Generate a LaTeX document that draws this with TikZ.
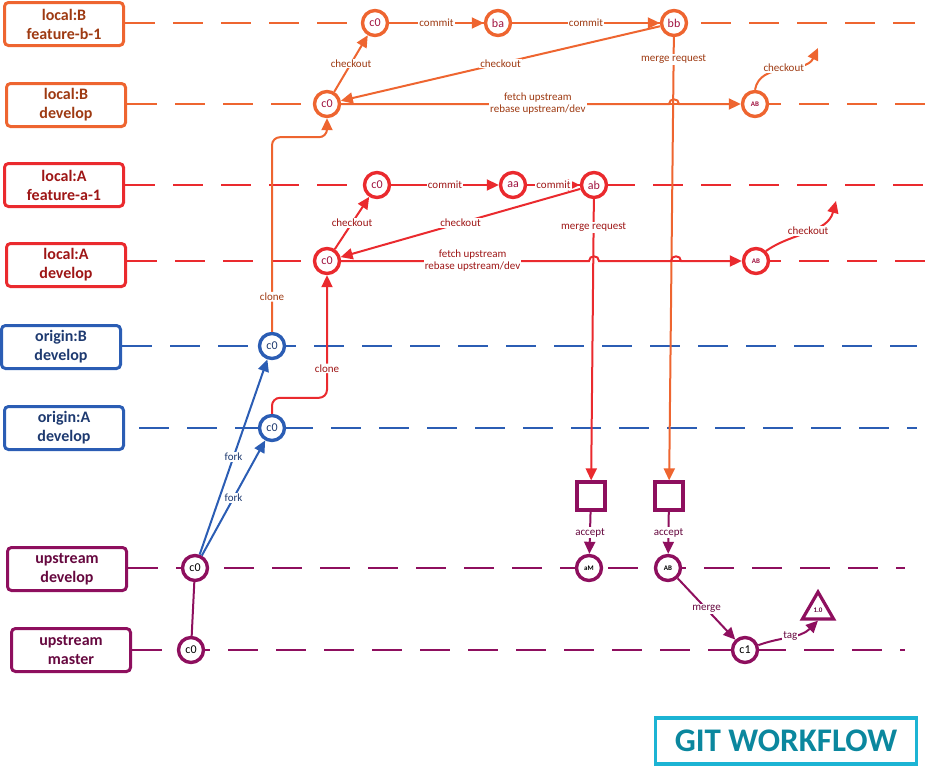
\documentclass[tikz,border=0pt]{standalone}
\usepackage{fontspec}
\setmainfont{Carlito}
\usetikzlibrary{arrows.meta}
\usetikzlibrary{shapes.geometric}
\definecolor{bcol}{HTML}{EE6530}
\definecolor{btext}{HTML}{9E3A12}
\definecolor{acol}{HTML}{EA2A2E}
\definecolor{atext}{HTML}{9E1616}
\definecolor{ocol}{HTML}{2B5DB4}
\definecolor{otext}{HTML}{1E3A70}
\definecolor{ucol}{HTML}{8E0F5E}
\definecolor{utext}{HTML}{66083F}
\definecolor{ctext}{HTML}{A0123F}
\definecolor{tcol}{HTML}{1CB4D4}
\definecolor{ttext}{HTML}{0B879E}

\begin{document}
\begin{tikzpicture}[x=1pt, y=-1pt]
                \tikzstyle{branch} = [draw={#1}, line width=3pt, rounded corners=4pt, minimum width=119pt, minimum height=43pt, align=center, font=\fontsize{16}{19}\selectfont\bfseries]
                \tikzstyle{lane} = [line width=2.2pt, dash pattern=on 30pt off 18pt, color={#1}]
                \tikzstyle{commit} = [circle, draw={#1}, fill=white, line width=3.4pt, minimum size=25pt, inner sep=0pt, font=\fontsize{12}{13}\selectfont]
                \tikzstyle{small} = [font=\fontsize{7}{8}\selectfont\bfseries]
                \tikzstyle{request} = [draw={#1}, fill=white, line width=3.2pt, minimum size=28pt, inner sep=0pt]
                \tikzstyle{link} = [line width=2pt, color={#1}, -{Triangle[length=12pt, width=11pt]}]
                \tikzstyle{lbl} = [fill=white, inner sep=1pt, font=\fontsize{11}{12}\selectfont]
                \useasboundingbox (0,0) rectangle (929,774);
                % branches
                \node[branch=bcol, text=btext] (lbf) at (64,24) {local:B\\feature-b-1};
                \node[branch=bcol, text=btext] (lbd) at (66,105) {local:B\\develop};
                \node[branch=acol, text=atext] (laf) at (64,185) {local:A\\feature-a-1};
                \node[branch=acol, text=atext] (lad) at (66,265) {local:A\\develop};
                \node[branch=ocol, text=otext] (obd) at (61,347) {origin:B\\develop};
                \node[branch=ocol, text=otext] (oad) at (64,428) {origin:A\\develop};
                \node[branch=ucol, text=utext] (upd) at (67,569) {upstream\\develop};
                \node[branch=ucol, text=utext] (upm) at (71,650) {upstream\\master};
                \draw[lane=bcol] (lbf.east |- 0,23) -- (915,23);
                \draw[lane=bcol] (lbd.east |- 0,104) -- (925,104);
                \draw[lane=acol] (laf.east) -- (925,185);
                \draw[lane=acol] (lad.east |- 0,261) -- (925,261);
                \draw[lane=ocol] (obd.east |- 0,346) -- (917,346);
                \draw[lane=ocol] ([xshift=14pt]oad.east) -- (917,428);
                \draw[lane=ucol] (upd.east |- 0,568) -- (905,568);
                \draw[lane=ucol] (upm.east) -- (905,650);
                % commits
                \node[commit=bcol, text=ctext] (bc0) at (375,23) {c0};
                \node[commit=bcol, text=ctext] (bba) at (498,23) {ba};
                \node[commit=bcol, text=ctext] (bbb) at (674,23) {bb};
                \node[commit=bcol, text=ctext] (bdc0) at (327,104) {c0};
                \node[commit=bcol, text=ctext, small] (bdAB) at (755,104) {AB};
                \node[commit=acol, text=ctext] (ac0) at (377,185) {c0};
                \node[commit=acol, text=ctext] (aaa) at (513,185) {aa};
                \node[commit=acol, text=ctext] (aab) at (594,185) {ab};
                \node[commit=acol, text=ctext] (adc0) at (327,261) {c0};
                \node[commit=acol, text=ctext, small] (adAB) at (756,261) {AB};
                \node[commit=ocol, text=otext] (obc0) at (272,346) {c0};
                \node[commit=ocol, text=otext] (oac0) at (272,428) {c0};
                \node[commit=ucol, text=black] (udc0) at (195,568) {c0};
                \node[commit=ucol, text=black, small] (uaM) at (589,568) {aM};
                \node[commit=ucol, text=black, small] (uAB) at (668,568) {AB};
                \node[commit=ucol, text=black] (umc0) at (191,650) {c0};
                \node[commit=ucol, text=black] (uc1) at (745,650) {c1};
                \node[request=ucol] (sqa) at (591,496) {};
                \node[request=ucol] (sqb) at (669,496) {};
                \node[regular polygon, regular polygon sides=3, draw=ucol, fill=white, line width=3.2pt, minimum size=36pt, inner sep=0pt, small, text=utext] (t1) at (818,610) {1.0};
                \coordinate (bdout) at (818,48);
                \coordinate (adout) at (836,201);
                % local B
                \draw[link=bcol] (bc0) -- node[lbl, text=btext] {commit} (bba);
                \draw[link=bcol] (bba) -- node[lbl, text=btext] {commit} (bbb);
                \draw[link=bcol] (bdc0) -- node[lbl, text=btext] {checkout} (bc0);
                \draw[link=bcol] (bbb) -- node[lbl, text=btext] {checkout} (bdc0);
                \draw[link=bcol] (bdc0) -- node[lbl, text=btext, align=center, pos=0.6, font=\fontsize{11}{12}\selectfont] {fetch upstream\\rebase upstream/dev} ([xshift=-5pt]bbb |- bdc0) to[out=90, in=90, looseness=1.6] ++(10,0) -- (bdAB);
                \draw[link=bcol] (bdAB.north) to[out=80, in=245] node[lbl, text=btext] {checkout} (bdout);
                \draw[link=bcol] (bbb) -- node[lbl, text=btext, pos=0.05] {merge request} (sqb);
                % local A
                \draw[link=acol] (ac0) -- node[lbl, text=atext] {commit} (aaa);
                \draw[link=acol] (aaa) -- node[lbl, text=atext] {commit} (aab);
                \draw[link=acol] (adc0) -- node[lbl, text=atext] {checkout} (ac0);
                \draw[link=acol] (aab) -- node[lbl, text=atext] {checkout} (adc0);
                \draw[link=acol] (adc0) -- node[lbl, text=atext, align=center, pos=0.53, font=\fontsize{11}{12}\selectfont] {fetch upstream\\rebase upstream/dev} ([xshift=-5pt]aab |- adc0) to[out=90, in=90, looseness=1.6] ++(10,0) -- ([xshift=-3pt]bbb |- adc0) to[out=90, in=90, looseness=1.6] ++(10,0) -- (adAB);
                \draw[link=acol] (adAB.north east) to[out=35, in=255] node[lbl, text=atext] {checkout} (adout);
                \draw[link=acol] (aab) -- node[lbl, text=atext, pos=0.1] {merge request} (sqa);
                % origin
                \draw[link=ocol] (udc0) -- node[lbl, text=otext] {fork} (obc0);
                \draw[link=ocol] (udc0) -- node[lbl, text=otext] {fork} (oac0);
                \draw[link=bcol, rounded corners=8pt] (obc0.north) |- node[lbl, text=btext, pos=0.09] {clone} ([yshift=-19pt]bdc0.south) -- (bdc0.south);
                \draw[link=acol, rounded corners=8pt] (oac0.north) -- ++(0,-16) -| node[lbl, text=atext, pos=0.62] {clone} (adc0.south);
                % upstream
                \draw[line width=2pt, ucol] (udc0) -- (umc0);
                \draw[link=ucol] (sqa) -- node[lbl, text=utext] {accept} (uaM);
                \draw[link=ucol] (sqb) -- node[lbl, text=utext] {accept} (uAB);
                \draw[link=ucol] (uAB) -- node[lbl, text=utext] {merge} (uc1);
                \draw[link=ucol] (uc1) to[out=20, in=225] node[lbl, text=utext] {tag} (t1.south);
                \node[draw=tcol, line width=3.5pt, minimum width=261pt, minimum height=46pt, text=ttext, font=\fontsize{33}{35}\selectfont\bfseries] (title) at (786,741) {GIT WORKFLOW};
            \end{tikzpicture}
\end{document}
